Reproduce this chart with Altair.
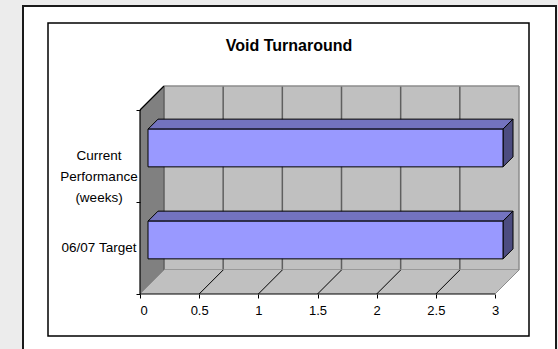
import altair as alt
import pandas as pd

# ---- chart data -------------------------------------------------------------
categories = ["06/07 Target", "Current\nPerformance\n(weeks)"]  # bottom to top
values = [3.0, 3.0]
tick_values = [0, 0.5, 1, 1.5, 2, 2.5, 3]
title_text = "Void Turnaround"

# ---- 3-D box geometry (pixel sizes of the drawing) --------------------------
X_MAX = 3.0
N_CAT = len(categories)
FRONT_W = 355       # width of the front edge of the floor
BAND_PX = 92        # height of one category band on the front plane
DEPTH_PX = 24       # depth of the box, drawn at 45 degrees
BAR_FRONT = 8 / 24  # bar front face, as a fraction of the depth
BAR_BACK = 18 / 24  # bar back face
BAR_HALF = 0.205    # half bar thickness, in category bands

W = FRONT_W + DEPTH_PX
H = N_CAT * BAND_PX + DEPTH_PX
DX = DEPTH_PX * X_MAX / FRONT_W   # depth in x data units
DY = DEPTH_PX / BAND_PX           # depth in y data units

xs = alt.Scale(domain=[0, X_MAX + DX], nice=False, zero=False)
ys = alt.Scale(domain=[0, N_CAT + DY], nice=False, zero=False)

# one axis definition shared by every layer so that they merge cleanly
X_AXIS = alt.Axis(
    values=tick_values, format=".1~f", domain=False, grid=False,
    tickColor="black", tickSize=4, tickWidth=1, labelPadding=6, labelFontSize=13,
    labelFont="Liberation Sans", labelColor="black", title=None, zindex=2,
)
Y_AXIS = alt.Axis(
    values=list(range(N_CAT + 1)), labels=False, domain=False, grid=False,
    tickColor="black", tickSize=4, tickWidth=1, title=None, zindex=2,
)


def X(field):
    return alt.X(field, scale=xs, axis=X_AXIS)


def Y(field):
    return alt.Y(field, scale=ys, axis=Y_AXIS)


FRONT = "#9999ff"
TOP = "#7373bf"
SIDE = "#4c4c80"

# ---- page frames --------------------------------------------------------------
one = pd.DataFrame({"k": [0]})
outer = alt.Chart(one).mark_rect(fill="white", stroke="#1a1a1a", strokeWidth=2).encode(
    x=alt.value(-117), x2=alt.value(416), y=alt.value(-80), y2=alt.value(300)
)
inner = alt.Chart(one).mark_rect(fill="white", stroke="black", strokeWidth=1.5).encode(
    x=alt.value(-92), x2=alt.value(389), y=alt.value(-63), y2=alt.value(250)
)

# ---- walls and floor ----------------------------------------------------------
side_df = pd.DataFrame({"x": [0, DX], "y": [0, DY], "y2": [N_CAT, N_CAT + DY]})
side_wall = alt.Chart(side_df).mark_area(orient="vertical", color="#808080").encode(
    x=X("x:Q"), y=Y("y:Q"), y2="y2:Q"
)

back_df = pd.DataFrame({"x": [DX], "x2": [X_MAX + DX], "y": [DY], "y2": [N_CAT + DY]})
back_wall = alt.Chart(back_df).mark_rect(color="#c0c0c0").encode(
    x=X("x:Q"), x2="x2:Q", y=Y("y:Q"), y2="y2:Q",
)

grid_df = pd.DataFrame({"x": [v + DX for v in tick_values[:-1]]})
grid_df["y"] = DY
grid_df["y2"] = N_CAT + DY
grid = alt.Chart(grid_df).mark_rule(color="#5f5f5f", strokeWidth=1.5).encode(
    x=X("x:Q"), y=Y("y:Q"), y2="y2:Q"
)

wall_edges_df = pd.DataFrame({
    "x": [DX, X_MAX + DX, DX],
    "x2": [X_MAX + DX, X_MAX + DX, X_MAX + DX],
    "y": [N_CAT + DY, DY, DY],
    "y2": [N_CAT + DY, N_CAT + DY, DY],
})
wall_edges = alt.Chart(wall_edges_df).mark_rule(color="#8c8c8c", strokeWidth=1.5).encode(
    x=X("x:Q"), x2="x2:Q", y=Y("y:Q"), y2="y2:Q",
)

floor_df = pd.DataFrame({"y": [0, DY], "x": [0, DX], "x2": [X_MAX, X_MAX + DX]})
floor = alt.Chart(floor_df).mark_area(orient="horizontal", color="#c0c0c0").encode(
    y=Y("y:Q"), x=X("x:Q"), x2="x2:Q"
)

diag_df = pd.DataFrame({"x": tick_values})
diag_df["x2"] = diag_df["x"] + DX
diag_df["y"] = 0.0
diag_df["y2"] = DY
diag_df["edge"] = [v in (0, X_MAX) for v in tick_values]
floor_lines = alt.Chart(diag_df).mark_rule(strokeWidth=1).encode(
    x=X("x:Q"), x2="x2:Q", y=Y("y:Q"), y2="y2:Q",
    color=alt.condition("datum.edge", alt.value("#8c8c8c"), alt.value("black")),
)

# front edge, left edge and the top slope of the side wall
frame_df = pd.DataFrame({
    "x": [0, 0, 0], "x2": [X_MAX, 0, DX],
    "y": [0, 0, N_CAT], "y2": [0, N_CAT, N_CAT + DY],
})
frame_lines = alt.Chart(frame_df).mark_rule(color="black", strokeWidth=1.2).encode(
    x=X("x:Q"), x2="x2:Q", y=Y("y:Q"), y2="y2:Q",
)

# ---- 3-D bars -------------------------------------------------------------------
front_rows, top_rows, side_rows = [], [], []
for i, v in enumerate(values):
    c = i + 0.5
    lo, hi = c - BAR_HALF, c + BAR_HALF
    f_dx, f_dy = BAR_FRONT * DX, BAR_FRONT * DY
    b_dx, b_dy = BAR_BACK * DX, BAR_BACK * DY
    front_rows.append({"bar": i, "x": f_dx, "x2": v + f_dx, "y": lo + f_dy, "y2": hi + f_dy})
    top_rows += [
        {"bar": i, "y": hi + f_dy, "x": f_dx, "x2": v + f_dx},
        {"bar": i, "y": hi + b_dy, "x": b_dx, "x2": v + b_dx},
    ]
    side_rows += [
        {"bar": i, "x": v + f_dx, "y": lo + f_dy, "y2": hi + f_dy},
        {"bar": i, "x": v + b_dx, "y": lo + b_dy, "y2": hi + b_dy},
    ]

bar_top = alt.Chart(pd.DataFrame(top_rows)).mark_area(
    orient="horizontal", fill=TOP, stroke="black", strokeWidth=1
).encode(y=Y("y:Q"), x=X("x:Q"), x2="x2:Q", detail="bar:N")

bar_side = alt.Chart(pd.DataFrame(side_rows)).mark_area(
    orient="vertical", fill=SIDE, stroke="black", strokeWidth=1
).encode(x=X("x:Q"), y=Y("y:Q"), y2="y2:Q", detail="bar:N")

bar_front = alt.Chart(pd.DataFrame(front_rows)).mark_rect(
    fill=FRONT, stroke="black", strokeWidth=1
).encode(x=X("x:Q"), x2="x2:Q", y=Y("y:Q"), y2="y2:Q")

# ---- category labels and title ------------------------------------------------
label_df = pd.DataFrame({"label": categories, "y": [i + 0.5 for i in range(N_CAT)]})
cat_labels = alt.Chart(label_df).mark_text(
    align="center", baseline="middle", fontSize=13.5, font="Liberation Sans",
    color="black", lineBreak="\n", lineHeight=21,
).encode(x=alt.value(-41), y=Y("y:Q"), text="label:N")

title = alt.Chart(pd.DataFrame({"t": [title_text]})).mark_text(
    align="center", baseline="middle", fontSize=16, fontWeight="bold",
    font="Liberation Sans", color="black",
).encode(x=alt.value(149), y=alt.value(-40), text="t:N")

chart = alt.layer(
    outer, inner, side_wall, back_wall, grid, wall_edges, floor, floor_lines,
    frame_lines, bar_top, bar_side, bar_front, cat_labels, title,
).properties(
    width=W, height=H,
    padding={"left": 140, "top": 86, "right": 558 - 140 - W, "bottom": 349 - 86 - H},
    autosize="none",
    background="#ececec",
).configure_view(stroke=None)

chart.save("out.html", embed_options={"renderer": "svg", "actions": False})
